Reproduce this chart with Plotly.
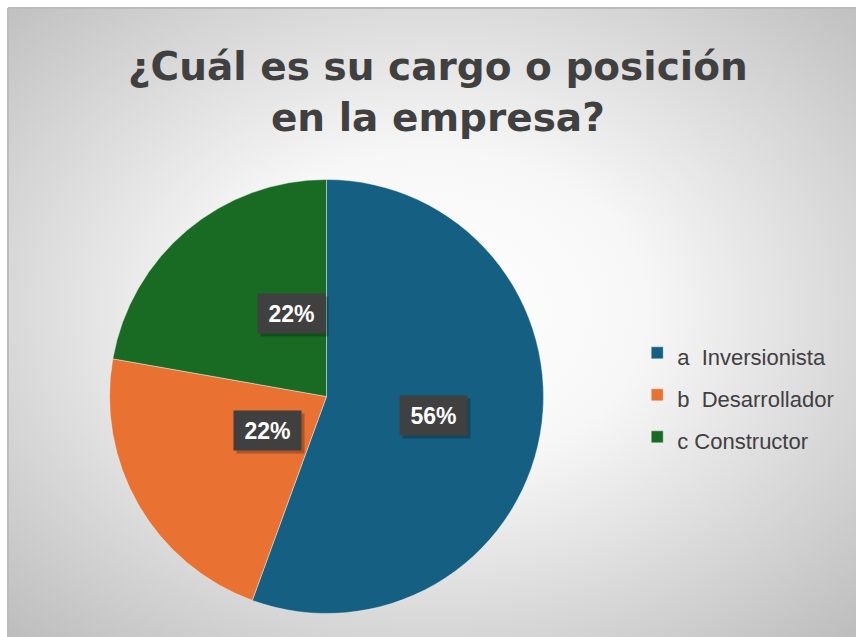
import base64
import math
import plotly.graph_objects as go

# Data
categories = ["a\u00a0 Inversionista", "b\u00a0 Desarrollador", "c Constructor"]
counts = [5, 2, 2]
colors = ["#156082", "#E97132", "#196B24"]
title_lines = ["¿Cuál es su cargo o posición", "en la empresa?"]

# Figure geometry (pixels); the chart area starts 8px in and runs past the window edge
FW, FH = 856, 637
ML, MT = 8, 8
W, H = FW - ML, FH - MT
cx_px, cy_px, R = 318.5, 388.5, 217
dom_x = [(cx_px - R) / W, (cx_px + R) / W]
dom_y = [(H - cy_px - R) / H, (H - cy_px + R) / H]

text_col = "#404040"
font_fam = "Liberation Sans, Arial, sans-serif"

# radial gradient background as inline svg
svg = (
    f'<svg xmlns="http://www.w3.org/2000/svg" width="{W}" height="{H}">'
    '<defs><radialGradient id="g" cx="50%" cy="48%" r="72%">'
    '<stop offset="0" stop-color="#ffffff"/>'
    '<stop offset="0.35" stop-color="#f7f7f7"/>'
    '<stop offset="1" stop-color="#bdbdbd"/>'
    '</radialGradient></defs>'
    '<rect width="100%" height="100%" fill="url(#g)"/></svg>'
)
bg_src = "data:image/svg+xml;base64," + base64.b64encode(svg.encode()).decode()

fig = go.Figure()
fig.add_trace(go.Pie(
    labels=[f'<span style="font-size:22px">{c}</span>' for c in categories],
    values=counts,
    marker=dict(colors=colors, line=dict(color="rgba(255,255,255,0.5)", width=0.8)),
    sort=False,
    direction="clockwise",
    rotation=0,
    textinfo="none",
    hoverinfo="label+percent",
    domain=dict(x=dom_x, y=dom_y),
))

# percentage labels in dark boxes, placed at half radius on each slice's mid-angle
total = sum(counts)
acc = 0
annotations = []
for v in counts:
    mid = (acc + v / 2) / total * 2 * math.pi
    acc += v
    ax = (dom_x[0] + dom_x[1]) / 2 + 0.5 * R * math.sin(mid) / W
    ay = (dom_y[0] + dom_y[1]) / 2 + 0.5 * R * math.cos(mid) / H
    pct = f"{round(100 * v / total)}%"
    # soft shadow
    annotations.append(dict(
        x=ax, y=ay, xref="paper", yref="paper", text=pct, showarrow=False,
        xshift=3, yshift=-3, width=63, height=35, borderpad=2,
        bgcolor="rgba(0,0,0,0.25)", font=dict(size=23, color="rgba(0,0,0,0)"),
    ))
    annotations.append(dict(
        x=ax, y=ay, xref="paper", yref="paper", text=f"<b>{pct}</b>", showarrow=False,
        width=63, height=35, borderpad=2, bgcolor="#404040",
        font=dict(size=23, color="white", family=font_fam),
    ))

annotations.append(dict(
    x=0.507, y=0.867, xref="paper", yref="paper", showarrow=False,
    text="<b>" + "<br>".join(title_lines) + "</b>",
    font=dict(size=39, color=text_col, family="DejaVu Sans, sans-serif"),
    xanchor="center", yanchor="middle",
))

fig.update_layout(
    width=FW, height=FH,
    margin=dict(l=ML, r=0, t=MT, b=0, pad=0),
    paper_bgcolor="white",
    showlegend=True,
    legend=dict(
        x=0.742, y=0.385, xanchor="left", yanchor="middle",
        font=dict(size=30, color=text_col, family=font_fam),
        bgcolor="rgba(0,0,0,0)",
    ),
    annotations=annotations,
    images=[dict(
        source=bg_src, xref="paper", yref="paper", x=0, y=1,
        sizex=1, sizey=1, sizing="stretch", layer="below",
    )],
    shapes=[
        dict(type="line", xref="paper", yref="paper", x0=0, y0=1, x1=1, y1=1,
             line=dict(color="#bcbcbc", width=2)),
        dict(type="line", xref="paper", yref="paper", x0=0, y0=0, x1=0, y1=1,
             line=dict(color="#bcbcbc", width=2)),
    ],
)

fig.write_html(
    "out.html",
    config={"displayModeBar": False},
    post_script="document.body.style.margin='0';document.body.style.overflow='hidden';",
)
